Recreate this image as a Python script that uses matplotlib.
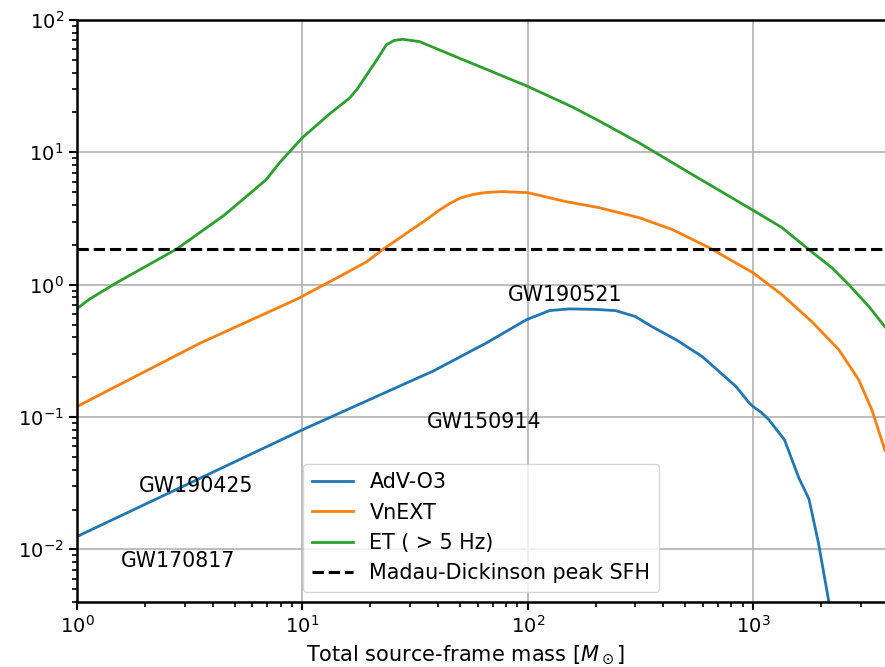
import matplotlib
matplotlib.use("Agg")
import matplotlib.pyplot as plt

# AdV-O3
adv_mass = [1.0, 10.0, 33.1, 38.0, 65.6, 98.6, 125.0, 153.0, 200.0, 245.0, 300.0, 356.0, 460.0, 595.0, 840.0, 960.0, 1000.0, 1090.0, 1175.0, 1380.0, 1596.0, 1770.0, 1950.0, 2170.0, 2300.0]
adv_rate = [0.0125, 0.080, 0.20, 0.222, 0.363, 0.543, 0.637, 0.656, 0.65, 0.637, 0.575, 0.482, 0.38, 0.286, 0.17, 0.128, 0.12, 0.108, 0.0955, 0.067, 0.0347, 0.024, 0.0112, 0.0040, 0.0026]

# VnEXT
vn_mass = [1.0, 3.5, 9.5, 15.7, 19.3, 22.7, 35.5, 40.0, 45.0, 50.0, 57.0, 65.0, 77.0, 100.0, 148.0, 207.0, 312.0, 438.0, 638.0, 1000.0, 1343.0, 1824.0, 2400.0, 2944.0, 3365.0, 3850.0]
vn_rate = [0.12, 0.36, 0.78, 1.23, 1.49, 1.84, 3.1, 3.6, 4.1, 4.5, 4.8, 4.97, 5.05, 4.96, 4.24, 3.82, 3.21, 2.61, 1.905, 1.23, 0.84, 0.525, 0.323, 0.191, 0.1135, 0.056]

# ET (>5 Hz)
et_mass = [1.0, 1.14, 1.5, 2.77, 4.5, 6.9, 7.9, 10.0, 13.2, 16.2, 17.5, 19.3, 21.4, 23.6, 25.5, 27.8, 33.1, 48.3, 67.6, 100.0, 158.0, 207.0, 312.0, 520.0, 989.0, 1343.0, 1770.0, 2240.0, 2660.0, 3260.0, 3850.0]
et_rate = [0.66, 0.78, 1.035, 1.86, 3.35, 6.2, 8.3, 12.9, 19.5, 25.7, 30.0, 38.5, 50.0, 65.0, 70.0, 71.5, 68.7, 52.5, 41.5, 31.5, 22.0, 17.3, 11.8, 7.03, 3.69, 2.70, 1.84, 1.34, 1.0, 0.686, 0.48]

md_peak = 1.85

events = ["GW190521", "GW150914", "GW190425", "GW170817"]
event_x = [147.0, 64.2, 3.37, 2.8]
event_y = [0.84, 0.092, 0.030, 0.0082]

fig = plt.figure(figsize=(8.85, 6.67), dpi=100)
ax = fig.add_axes([77/885, 1 - 602/667, 1 - 77/885, (602 - 20)/667])

ax.plot(adv_mass, adv_rate, color="#1f77b4", lw=2.0, label="AdV-O3")
ax.plot(vn_mass, vn_rate, color="#ff7f0e", lw=2.0, label="VnEXT")
ax.plot(et_mass, et_rate, color="#2ca02c", lw=2.0, label="ET ( > 5 Hz)")
ax.axhline(md_peak, color="black", ls="--", lw=2.2, label="Madau-Dickinson peak SFH")

for name, x, y in zip(events, event_x, event_y):
    ax.text(x, y, name, fontsize=14.8, ha="center", va="center")

ax.set_xscale("log")
ax.set_yscale("log")
ax.set_xlim(1, 3850)
ax.set_ylim(0.004, 100)
ax.grid(True, which="major", color="#b0b0b0", lw=1.2)
ax.spines["right"].set_visible(False)
ax.tick_params(axis="both", which="major", labelsize=14, width=1.5, length=6)
ax.tick_params(axis="both", which="minor", width=1.2, length=3.5)
for s in ax.spines.values():
    s.set_linewidth(1.8)
ax.set_xlabel(r"Total source-frame mass [$M_\odot$]", fontsize=15)
ax.xaxis.set_label_coords(0.481, -0.072)
ax.legend(loc="lower center", fontsize=14.9, framealpha=0.8)

fig.savefig("out.png", dpi=100)
